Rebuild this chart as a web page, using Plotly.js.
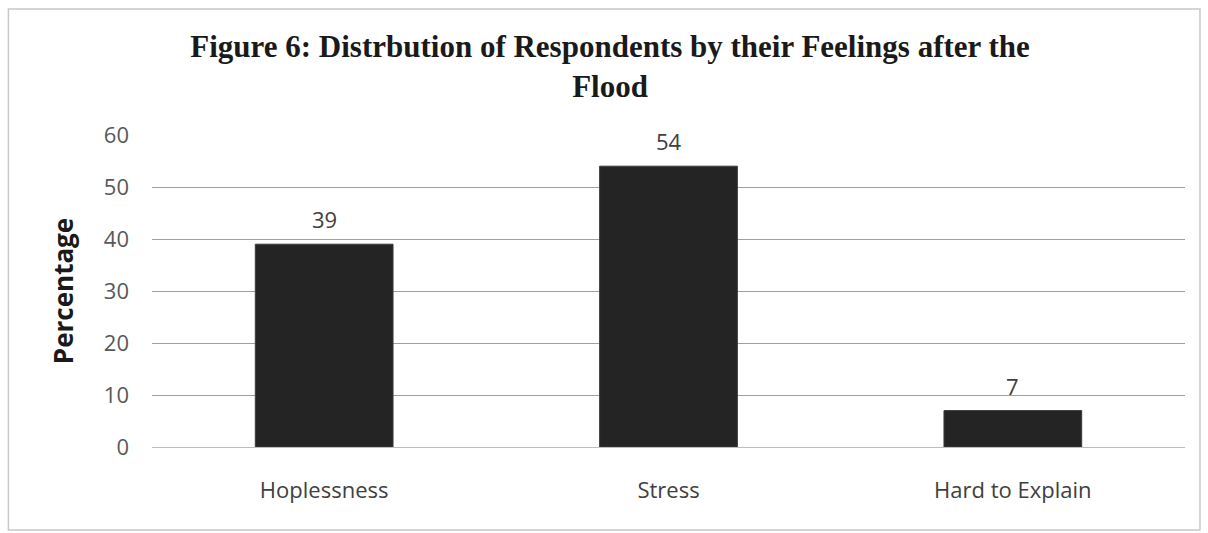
<!DOCTYPE html>
<html>
<head>
<meta charset="utf-8">
<script src="https://cdn.plot.ly/plotly-3.0.1.min.js"></script>
<style>html,body{margin:0;padding:0;background:#fff;}#chart{width:1208px;height:533px;}</style>
</head>
<body>
<div id="chart"></div>
<script>
const categories = ["Hoplessness", "Stress", "Hard to Explain"];
const percentages = [39, 54, 7];
const tickValues = [0, 10, 20, 30, 40, 50, 60];

const labelFont = {family: "Open Sans, Liberation Sans, sans-serif", size: 22, color: "#404040"};

const trace = {
  type: "bar",
  x: categories,
  y: percentages,
  marker: {color: "#242424", line: {color: "#3a3a3a", width: 1}},
  hoverinfo: "none"
};

const valueLabels = categories.map((c, i) => ({
  x: c, y: percentages[i], xref: "x", yref: "y",
  text: String(percentages[i]),
  showarrow: false, yanchor: "bottom", yshift: 8,
  font: labelFont
}));

const layout = {
  width: 1208,
  height: 533,
  margin: {l: 152, r: 23, t: 135, b: 86},
  paper_bgcolor: "#ffffff",
  plot_bgcolor: "#ffffff",
  bargap: 0.6,
  showlegend: false,
  title: {
    text: "<b>Figure 6: Distrbution of Respondents by their Feelings after the<br>Flood</b>",
    font: {family: "Liberation Serif, Times New Roman, serif", size: 31, color: "#1a1a1a"},
    x: 0.505,
    xanchor: "center",
    y: 0.893,
    yanchor: "top"
  },
  xaxis: {
    tickfont: labelFont,
    showgrid: false,
    showline: true,
    linecolor: "#bdbdbd",
    linewidth: 1,
    ticks: "",
    ticklabelstandoff: 24
  },
  yaxis: {
    range: [0, 60],
    tickvals: tickValues,
    ticktext: tickValues.map(String),
    tickfont: {family: "Open Sans, Liberation Sans, sans-serif", size: 22, color: "#595959"},
    showgrid: true,
    gridcolor: "#a0a0a0",
    gridwidth: 1,
    zeroline: false,
    showline: false,
    ticks: "",
    ticklabelstandoff: 22,
    title: {
      text: "<b>Percentage</b>",
      font: {family: "Open Sans, Liberation Sans, sans-serif", size: 26, color: "#1a1a1a"},
      standoff: 22
    }
  },
  annotations: valueLabels,
  shapes: [{
    type: "rect", xref: "paper", yref: "paper",
    x0: -0.139, x1: 1.0145, y0: -0.266, y1: 1.404,
    line: {color: "#c8c8c8", width: 1.5}, fillcolor: "rgba(0,0,0,0)", layer: "below"
  }]
};

Plotly.newPlot("chart", [trace], layout, {displayModeBar: false, staticPlot: true});
</script>
</body>
</html>
